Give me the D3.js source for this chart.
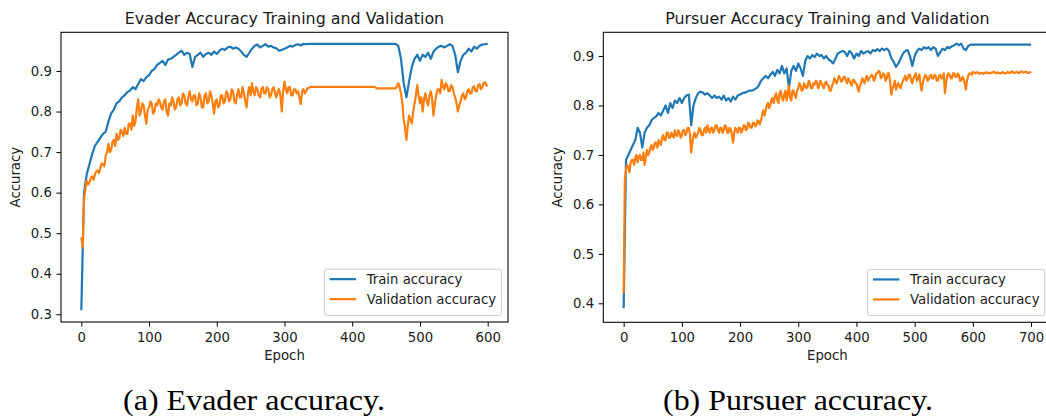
<!DOCTYPE html>
<html>
<head>
<meta charset="utf-8">
<script src="https://cdn.jsdelivr.net/npm/d3@7"></script>
<style>
  body { margin: 0; background: #fff; }
  svg { display: block; }
</style>
</head>
<body>
<svg id="fig" width="1046" height="418"></svg>
<script>
// Training accuracy is logged every 4 epochs, validation accuracy every 2.
const TRAIN_STEP = 4;
const VAL_STEP = 2;

// Evader: epochs 0..600
const evaderTrain = [
  0.31, 0.60, 0.645, 0.67, 0.695, 0.715, 0.725, 0.735, 0.745, 0.75,
  0.775, 0.795, 0.805, 0.82, 0.825, 0.835, 0.84, 0.848, 0.852, 0.86,
  0.855, 0.868, 0.88, 0.875, 0.885, 0.89, 0.9, 0.905, 0.915, 0.92,
  0.925, 0.915, 0.928, 0.93, 0.935, 0.94, 0.945, 0.95, 0.94, 0.945,
  0.942, 0.91, 0.935, 0.94, 0.945, 0.935, 0.942, 0.945, 0.94, 0.948,
  0.942, 0.95, 0.955, 0.952, 0.958, 0.96, 0.955, 0.958, 0.955, 0.948,
  0.94, 0.935, 0.945, 0.955, 0.962, 0.965, 0.958, 0.962, 0.966, 0.96,
  0.962, 0.958, 0.956, 0.95, 0.952, 0.955, 0.958, 0.962, 0.96, 0.964,
  0.966, 0.963, 0.967, 0.966, 0.967, 0.967, 0.967, 0.967, 0.967, 0.967,
  0.967, 0.967, 0.967, 0.967, 0.967, 0.967, 0.967, 0.967, 0.967, 0.967,
  0.967, 0.967, 0.967, 0.967, 0.967, 0.967, 0.967, 0.967, 0.967, 0.967,
  0.967, 0.967, 0.967, 0.967, 0.967, 0.967, 0.967, 0.962, 0.93, 0.87,
  0.835, 0.875, 0.91, 0.93, 0.94, 0.925, 0.94, 0.935, 0.945, 0.93,
  0.948, 0.955, 0.96, 0.962, 0.958, 0.962, 0.966, 0.962, 0.94, 0.897,
  0.925, 0.94, 0.945, 0.955, 0.948, 0.96, 0.955, 0.962, 0.965, 0.966,
  0.967
];
const evaderVal = [
  0.49, 0.465, 0.58, 0.61, 0.63, 0.62, 0.625, 0.635, 0.64, 0.632, 0.645, 0.652, 0.655, 0.648, 0.66, 0.672, 0.67, 0.665, 0.69, 0.7,
  0.72, 0.7, 0.705, 0.725, 0.73, 0.715, 0.745, 0.73, 0.735, 0.755, 0.75, 0.74, 0.76, 0.745, 0.745, 0.77, 0.77, 0.755, 0.79, 0.765,
  0.775, 0.81, 0.83, 0.79, 0.8, 0.82, 0.815, 0.79, 0.77, 0.805, 0.81, 0.825, 0.82, 0.795, 0.8, 0.82, 0.815, 0.83, 0.825, 0.81,
  0.805, 0.825, 0.83, 0.8, 0.79, 0.82, 0.815, 0.835, 0.825, 0.805, 0.81, 0.83, 0.835, 0.815, 0.82, 0.845, 0.84, 0.82, 0.815, 0.835,
  0.85, 0.83, 0.825, 0.84, 0.84, 0.815, 0.82, 0.845, 0.835, 0.81, 0.81, 0.84, 0.845, 0.82, 0.825, 0.85, 0.84, 0.82, 0.795, 0.825,
  0.83, 0.81, 0.815, 0.84, 0.84, 0.82, 0.825, 0.85, 0.845, 0.825, 0.83, 0.855, 0.85, 0.825, 0.82, 0.84, 0.855, 0.835, 0.835, 0.86,
  0.845, 0.825, 0.81, 0.845, 0.86, 0.84, 0.87, 0.85, 0.84, 0.86, 0.855, 0.84, 0.835, 0.855, 0.86, 0.845, 0.845, 0.86, 0.855, 0.835,
  0.84, 0.855, 0.86, 0.845, 0.835, 0.85, 0.855, 0.84, 0.8, 0.85, 0.874, 0.855, 0.845, 0.86, 0.86, 0.84, 0.84, 0.855, 0.855, 0.845,
  0.85, 0.835, 0.818, 0.85, 0.855, 0.845, 0.85, 0.858, 0.858, 0.861, 0.861, 0.861, 0.861, 0.861, 0.861, 0.861, 0.861, 0.861, 0.861, 0.861,
  0.861, 0.861, 0.861, 0.861, 0.861, 0.861, 0.861, 0.861, 0.861, 0.861, 0.861, 0.861, 0.861, 0.861, 0.861, 0.861, 0.861, 0.861, 0.861, 0.861,
  0.861, 0.861, 0.861, 0.861, 0.861, 0.861, 0.861, 0.861, 0.861, 0.861, 0.861, 0.861, 0.861, 0.861, 0.861, 0.861, 0.861, 0.86, 0.857, 0.857,
  0.857, 0.857, 0.857, 0.857, 0.857, 0.857, 0.857, 0.857, 0.857, 0.857, 0.857, 0.857, 0.857, 0.862, 0.87, 0.86, 0.845, 0.82, 0.78, 0.76,
  0.73, 0.765, 0.79, 0.78, 0.77, 0.8, 0.82, 0.84, 0.865, 0.84, 0.82, 0.835, 0.8, 0.83, 0.845, 0.825, 0.815, 0.84, 0.85, 0.83,
  0.79, 0.82, 0.84, 0.855, 0.855, 0.845, 0.878, 0.86, 0.855, 0.87, 0.865, 0.85, 0.85, 0.865, 0.86, 0.845, 0.835, 0.82, 0.8, 0.815,
  0.825, 0.84, 0.845, 0.83, 0.835, 0.85, 0.855, 0.845, 0.845, 0.86, 0.862, 0.85, 0.85, 0.865, 0.868, 0.855, 0.86, 0.87, 0.872, 0.865,
  0.862
];

// Pursuer: epochs 0..700
const pursuerTrain = [
  0.39, 0.69, 0.70, 0.71, 0.72, 0.73, 0.755, 0.745, 0.715, 0.745,
  0.755, 0.76, 0.77, 0.775, 0.778, 0.785, 0.78, 0.79, 0.8, 0.785,
  0.805, 0.795, 0.81, 0.805, 0.815, 0.805, 0.815, 0.82, 0.822, 0.76,
  0.8, 0.815, 0.825, 0.828, 0.826, 0.822, 0.825, 0.82, 0.815, 0.82,
  0.815, 0.818, 0.812, 0.82, 0.81, 0.815, 0.808, 0.818, 0.812, 0.82,
  0.822, 0.825, 0.826, 0.828, 0.83, 0.83, 0.832, 0.835, 0.84, 0.85,
  0.855, 0.86, 0.855, 0.862, 0.868, 0.86, 0.872, 0.865, 0.88, 0.865,
  0.875, 0.835, 0.87, 0.88, 0.87, 0.885, 0.875, 0.86, 0.89, 0.9,
  0.895, 0.902, 0.898, 0.905, 0.9, 0.902, 0.895, 0.9, 0.893, 0.89,
  0.885, 0.895, 0.905, 0.908, 0.91, 0.908, 0.9, 0.91, 0.905, 0.895,
  0.905, 0.9, 0.91, 0.905, 0.908, 0.91, 0.905, 0.912, 0.91, 0.914,
  0.91, 0.915, 0.912, 0.915, 0.91, 0.895, 0.888, 0.878, 0.885, 0.895,
  0.905, 0.91, 0.912, 0.9, 0.88, 0.9, 0.91, 0.915, 0.912, 0.918,
  0.915, 0.918, 0.912, 0.918, 0.915, 0.9, 0.908, 0.915, 0.912, 0.918,
  0.916, 0.92, 0.922, 0.925, 0.922, 0.925, 0.915, 0.912, 0.92, 0.923,
  0.923, 0.923, 0.923, 0.923, 0.923, 0.923, 0.923, 0.923, 0.923, 0.923,
  0.923, 0.923, 0.923, 0.923, 0.923, 0.923, 0.923, 0.923, 0.923, 0.923,
  0.923, 0.923, 0.923, 0.923, 0.923, 0.923
];
const pursuerVal = [
  0.42, 0.65, 0.67, 0.68, 0.675, 0.665, 0.685, 0.69, 0.69, 0.68, 0.695, 0.7, 0.685, 0.695, 0.70, 0.69, 0.69, 0.705, 0.68, 0.695,
  0.71, 0.7, 0.705, 0.715, 0.72, 0.71, 0.715, 0.725, 0.725, 0.715, 0.73, 0.725, 0.72, 0.735, 0.74, 0.73, 0.73, 0.745, 0.745, 0.735,
  0.735, 0.745, 0.74, 0.735, 0.75, 0.74, 0.738, 0.75, 0.745, 0.735, 0.74, 0.75, 0.75, 0.74, 0.745, 0.755, 0.755, 0.74, 0.705, 0.725,
  0.74, 0.745, 0.735, 0.74, 0.745, 0.755, 0.75, 0.74, 0.74, 0.75, 0.755, 0.745, 0.76, 0.75, 0.745, 0.755, 0.755, 0.745, 0.75, 0.76,
  0.76, 0.75, 0.745, 0.755, 0.755, 0.745, 0.75, 0.76, 0.758, 0.745, 0.745, 0.755, 0.752, 0.74, 0.725, 0.745, 0.755, 0.75, 0.745, 0.755,
  0.755, 0.745, 0.75, 0.76, 0.76, 0.75, 0.752, 0.765, 0.762, 0.755, 0.755, 0.765, 0.765, 0.758, 0.76, 0.77, 0.768, 0.762, 0.77, 0.78,
  0.79, 0.78, 0.79, 0.8, 0.805, 0.795, 0.8, 0.812, 0.815, 0.805, 0.82, 0.825, 0.81, 0.805, 0.825, 0.83, 0.815, 0.81, 0.822, 0.83,
  0.81, 0.825, 0.84, 0.815, 0.81, 0.83, 0.83, 0.82, 0.815, 0.83, 0.835, 0.845, 0.84, 0.83, 0.832, 0.845, 0.84, 0.835, 0.838, 0.85,
  0.845, 0.835, 0.835, 0.845, 0.842, 0.85, 0.848, 0.835, 0.84, 0.85, 0.845, 0.84, 0.835, 0.845, 0.848, 0.842, 0.84, 0.83, 0.83, 0.84,
  0.845, 0.855, 0.85, 0.845, 0.852, 0.86, 0.855, 0.848, 0.85, 0.858, 0.858, 0.85, 0.845, 0.855, 0.85, 0.845, 0.84, 0.852, 0.852, 0.845,
  0.845, 0.835, 0.828, 0.84, 0.845, 0.855, 0.85, 0.845, 0.855, 0.86, 0.85, 0.855, 0.858, 0.862, 0.86, 0.85, 0.855, 0.865, 0.865, 0.87,
  0.868, 0.855, 0.858, 0.865, 0.862, 0.85, 0.855, 0.865, 0.865, 0.845, 0.822, 0.835, 0.84, 0.85, 0.832, 0.84, 0.845, 0.838, 0.835, 0.845,
  0.85, 0.855, 0.86, 0.85, 0.855, 0.862, 0.862, 0.85, 0.845, 0.855, 0.86, 0.865, 0.85, 0.855, 0.863, 0.845, 0.83, 0.845, 0.855, 0.862,
  0.86, 0.85, 0.852, 0.86, 0.862, 0.855, 0.855, 0.862, 0.86, 0.85, 0.85, 0.86, 0.862, 0.855, 0.855, 0.865, 0.825, 0.845, 0.86, 0.865,
  0.862, 0.855, 0.855, 0.865, 0.865, 0.858, 0.858, 0.865, 0.862, 0.85, 0.85, 0.858, 0.855, 0.845, 0.832, 0.85, 0.86, 0.865, 0.865, 0.862,
  0.868, 0.866, 0.865, 0.867, 0.867, 0.865, 0.864, 0.866, 0.866, 0.864, 0.865, 0.867, 0.867, 0.865, 0.865, 0.866, 0.866, 0.867, 0.868, 0.866,
  0.865, 0.867, 0.866, 0.865, 0.865, 0.867, 0.867, 0.865, 0.865, 0.866, 0.868, 0.866, 0.866, 0.868, 0.869, 0.866, 0.866, 0.867, 0.868, 0.866,
  0.866, 0.868, 0.869, 0.867, 0.867, 0.868, 0.868, 0.866, 0.866, 0.867, 0.868
];

const evaderXTicks = [0, 100, 200, 300, 400, 500, 600];
const evaderYTicks = [0.3, 0.4, 0.5, 0.6, 0.7, 0.8, 0.9];
const pursuerXTicks = [0, 100, 200, 300, 400, 500, 600, 700];
const pursuerYTicks = [0.4, 0.5, 0.6, 0.7, 0.8, 0.9];

const seriesNames = ["Train accuracy", "Validation accuracy"];
const seriesColors = ["#1f77b4", "#ff7f0e"];
const seriesSteps = [TRAIN_STEP, VAL_STEP];
const panelTitles = ["Evader Accuracy Training and Validation", "Pursuer Accuracy Training and Validation"];
const captions = ["(a) Evader accuracy.", "(b) Pursuer accuracy."];
const xLabel = "Epoch";
const yLabel = "Accuracy";

// ---- layout ----
const FONT = "'DejaVu Sans', sans-serif";
const TICK_FS = 13.25;
const TITLE_FS = 15.9;
const TICK_LEN = 4.6;
const TEXT_COLOR = "#1a1a1a";

const svg = d3.select("#fig");
svg.append("rect").attr("width", 1046).attr("height", 418).attr("fill", "#fff");
const defs = svg.append("defs");

const panels = [
  {
    id: "evader", left: 61, right: 508, top: 32.3, bottom: 322,
    xDomain: [-30, 630], yDomain: [0.281, 0.9954],
    xTicks: evaderXTicks, yTicks: evaderYTicks,
    series: [evaderTrain, evaderVal],
    title: panelTitles[0], caption: captions[0], captionX: 254, captionW: 262
  },
  {
    id: "pursuer", left: 603.3, right: 1051.4, top: 32.3, bottom: 322.3,
    xDomain: [-35, 735], yDomain: [0.3616, 0.948],
    xTicks: pursuerXTicks, yTicks: pursuerYTicks,
    series: [pursuerTrain, pursuerVal],
    title: panelTitles[1], caption: captions[1], captionX: 798, captionW: 270
  }
];

function drawPanel(p) {
  const g = svg.append("g").attr("class", "panel-" + p.id);
  const x = d3.scaleLinear().domain(p.xDomain).range([p.left, p.right]);
  const y = d3.scaleLinear().domain(p.yDomain).range([p.bottom, p.top]);

  defs.append("clipPath").attr("id", "clip-" + p.id)
    .append("rect")
    .attr("x", p.left).attr("y", p.top)
    .attr("width", p.right - p.left).attr("height", p.bottom - p.top);

  // data lines
  const lines = g.append("g").attr("clip-path", `url(#clip-${p.id})`);
  p.series.forEach((vals, k) => {
    const step = seriesSteps[k];
    const line = d3.line()
      .x((d, i) => x(i * step))
      .y(d => y(d));
    lines.append("path")
      .datum(vals)
      .attr("d", line)
      .attr("fill", "none")
      .attr("stroke", seriesColors[k])
      .attr("stroke-width", 2.2)
      .attr("stroke-linejoin", "round")
      .attr("stroke-linecap", "butt");
  });

  // axes
  const xAxis = d3.axisBottom(x)
    .tickValues(p.xTicks)
    .tickFormat(d3.format("d"))
    .tickSize(TICK_LEN).tickSizeOuter(0).tickPadding(6);
  const yAxis = d3.axisLeft(y)
    .tickValues(p.yTicks)
    .tickFormat(d3.format(".1f"))
    .tickSize(TICK_LEN).tickSizeOuter(0).tickPadding(4.6);

  const gx = g.append("g").attr("transform", `translate(0,${p.bottom})`).call(xAxis);
  const gy = g.append("g").attr("transform", `translate(${p.left},0)`).call(yAxis);
  [gx, gy].forEach(ax => {
    ax.select(".domain").remove();
    ax.attr("font-family", FONT).attr("font-size", TICK_FS);
    ax.selectAll(".tick line").attr("stroke", "#000").attr("stroke-width", 1);
    ax.selectAll(".tick text").attr("fill", TEXT_COLOR);
  });

  // spines
  g.append("rect")
    .attr("x", p.left).attr("y", p.top)
    .attr("width", p.right - p.left).attr("height", p.bottom - p.top)
    .attr("fill", "none").attr("stroke", "#000").attr("stroke-width", 1.06);

  // title
  g.append("text")
    .attr("x", (p.left + p.right) / 2).attr("y", 24)
    .attr("text-anchor", "middle")
    .attr("font-family", FONT).attr("font-size", TITLE_FS)
    .attr("fill", TEXT_COLOR)
    .text(p.title);

  // axis labels
  g.append("text")
    .attr("x", (p.left + p.right) / 2).attr("y", p.bottom + 38)
    .attr("text-anchor", "middle")
    .attr("font-family", FONT).attr("font-size", TICK_FS)
    .attr("fill", TEXT_COLOR)
    .text(xLabel);
  g.append("text")
    .attr("transform", `translate(${p.left - 41},${(p.top + p.bottom) / 2}) rotate(-90)`)
    .attr("text-anchor", "middle")
    .attr("font-family", FONT).attr("font-size", TICK_FS)
    .attr("fill", TEXT_COLOR)
    .text(yLabel);

  // legend (lower right)
  const fs = TICK_FS;
  const pad = 0.4 * fs, handleLen = 2.0 * fs, handleGap = 0.8 * fs;
  const rowGap = 0.5 * fs, axPad = 0.5 * fs;
  const leg = g.append("g");
  const frame = leg.append("rect");
  const labels = seriesNames.map(n => leg.append("text")
    .attr("font-family", FONT).attr("font-size", fs)
    .attr("fill", TEXT_COLOR).text(n));
  const textW = d3.max(labels, t => t.node().getComputedTextLength());
  const legW = pad * 2 + handleLen + handleGap + textW;
  const legH = pad * 2 + seriesNames.length * fs + (seriesNames.length - 1) * rowGap + 2.5;
  const lx0 = p.right - axPad - legW;
  const ly0 = p.bottom - axPad - legH;
  frame.attr("x", lx0).attr("y", ly0).attr("width", legW).attr("height", legH)
    .attr("rx", 2.6).attr("ry", 2.6)
    .attr("fill", "#fff").attr("fill-opacity", 0.8)
    .attr("stroke", "#cccccc").attr("stroke-width", 1);
  seriesNames.forEach((n, k) => {
    const cy = ly0 + 10 + k * 20;
    leg.append("line")
      .attr("x1", lx0 + pad).attr("x2", lx0 + pad + handleLen)
      .attr("y1", cy).attr("y2", cy)
      .attr("stroke", seriesColors[k]).attr("stroke-width", 2.2);
    labels[k].attr("x", lx0 + pad + handleLen + handleGap).attr("y", cy + 4.7);
  });

  // caption under the panel
  svg.append("text")
    .attr("x", p.captionX).attr("y", 410)
    .attr("text-anchor", "middle")
    .attr("font-family", "'Liberation Serif', 'Times New Roman', serif")
    .attr("font-size", 29)
    .attr("fill", "#000")
    .attr("textLength", p.captionW)
    .attr("lengthAdjust", "spacingAndGlyphs")
    .text(p.caption);
}

panels.forEach(drawPanel);
</script>
</body>
</html>
